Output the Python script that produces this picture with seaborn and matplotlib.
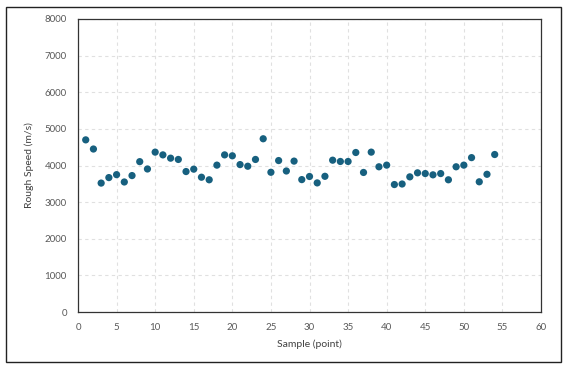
import matplotlib
matplotlib.use("Agg")
import matplotlib.pyplot as plt
import seaborn as sns
import pandas as pd
from matplotlib.patches import Rectangle

samples = list(range(1, 55))
speeds = [4700, 4450, 3520, 3670, 3750, 3550, 3725, 4105, 3905, 4365,
          4290, 4200, 4165, 3835, 3900, 3680, 3610, 4010, 4290, 4265,
          4025, 3980, 4165, 4730, 3815, 4135, 3850, 4120, 3615, 3700,
          3525, 3705, 4145, 4110, 4110, 4355, 3810, 4365, 3965, 4010,
          3480, 3495, 3690, 3800, 3780, 3745, 3780, 3610, 3965, 4010,
          4215, 3555, 3760, 4300]
x_ticks = list(range(0, 61, 5))
y_ticks = list(range(0, 8001, 1000))

df = pd.DataFrame({"Sample": samples, "Speed": speeds})

sns.set_style("white")
plt.rcParams['font.family'] = ['Lato', 'DejaVu Sans']

fig = plt.figure(figsize=(5.67, 3.67), dpi=100)
ax = fig.add_axes([78/567, 1-312/367, (541-78)/567, (312-19)/367])

sns.scatterplot(data=df, x="Sample", y="Speed", ax=ax, color="#17607f",
                s=27, edgecolor="none", zorder=3)

ax.set_xlim(0, 60)
ax.set_ylim(0, 8000)
ax.set_xticks(x_ticks)
ax.set_yticks(y_ticks)
ax.grid(True, linestyle=(0, (3, 3)), color="#e0e0e0", linewidth=0.8)
ax.set_axisbelow(True)
for sp in ax.spines.values():
    sp.set_visible(True)
    sp.set_color("#333333")
    sp.set_linewidth(0.9)
ax.tick_params(axis="both", length=0, labelsize=7, labelcolor="#595959", pad=8)
ax.set_xlabel("Sample (point)", fontsize=7.5, color="#404040", labelpad=5)
ax.set_ylabel("Rough Speed (m/s)", fontsize=7.5, color="#404040", labelpad=8)

fig.patches.append(Rectangle((6/567, 1-362/367), (561-6)/567, (362-7)/367,
                             transform=fig.transFigure, fill=False,
                             edgecolor="#222222", linewidth=1.0))

fig.savefig("out.png", dpi=100)
